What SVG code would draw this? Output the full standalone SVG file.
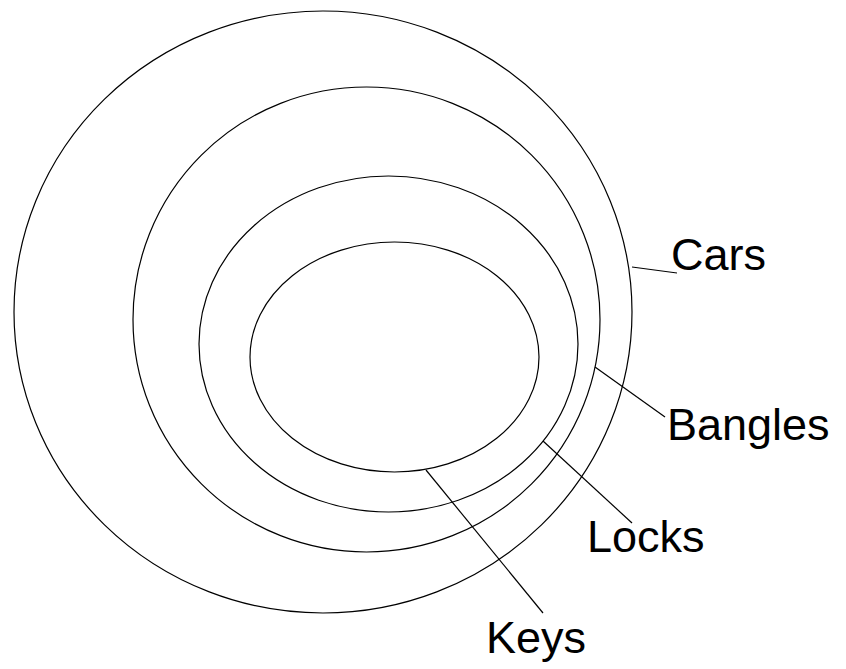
<svg xmlns="http://www.w3.org/2000/svg" width="846" height="669" viewBox="0 0 846 669">
<style>
.ring{fill:none;stroke:#000;stroke-width:1.2}
.lead{stroke:#000;stroke-width:1.2;fill:none}
.lbl{font-family:"Liberation Sans",Arial,sans-serif;font-size:45px;fill:#000}
</style>
<rect width="846" height="669" fill="#fff"/>
<g id="cars"><ellipse class="ring" cx="323" cy="312" rx="309" ry="301"/><text class="lbl" x="671" y="270">Cars</text></g>
<g id="bangles"><ellipse class="ring" cx="366.5" cy="319.5" rx="233.5" ry="232.5"/><text class="lbl" x="667" y="440">Bangles</text></g>
<g id="locks"><ellipse class="ring" cx="388.5" cy="344" rx="189.5" ry="168"/><text class="lbl" x="587" y="552">Locks</text></g>
<g id="keys"><ellipse class="ring" cx="394.5" cy="357" rx="144.5" ry="115"/><text class="lbl" x="486" y="653">Keys</text></g>
<g id="connectors">
<line class="lead" x1="632" y1="267" x2="677" y2="273"/>
<line class="lead" x1="595" y1="367" x2="665" y2="417"/>
<line class="lead" x1="543" y1="441" x2="632" y2="523"/>
<line class="lead" x1="426" y1="470" x2="543" y2="613"/>
</g>
</svg>
